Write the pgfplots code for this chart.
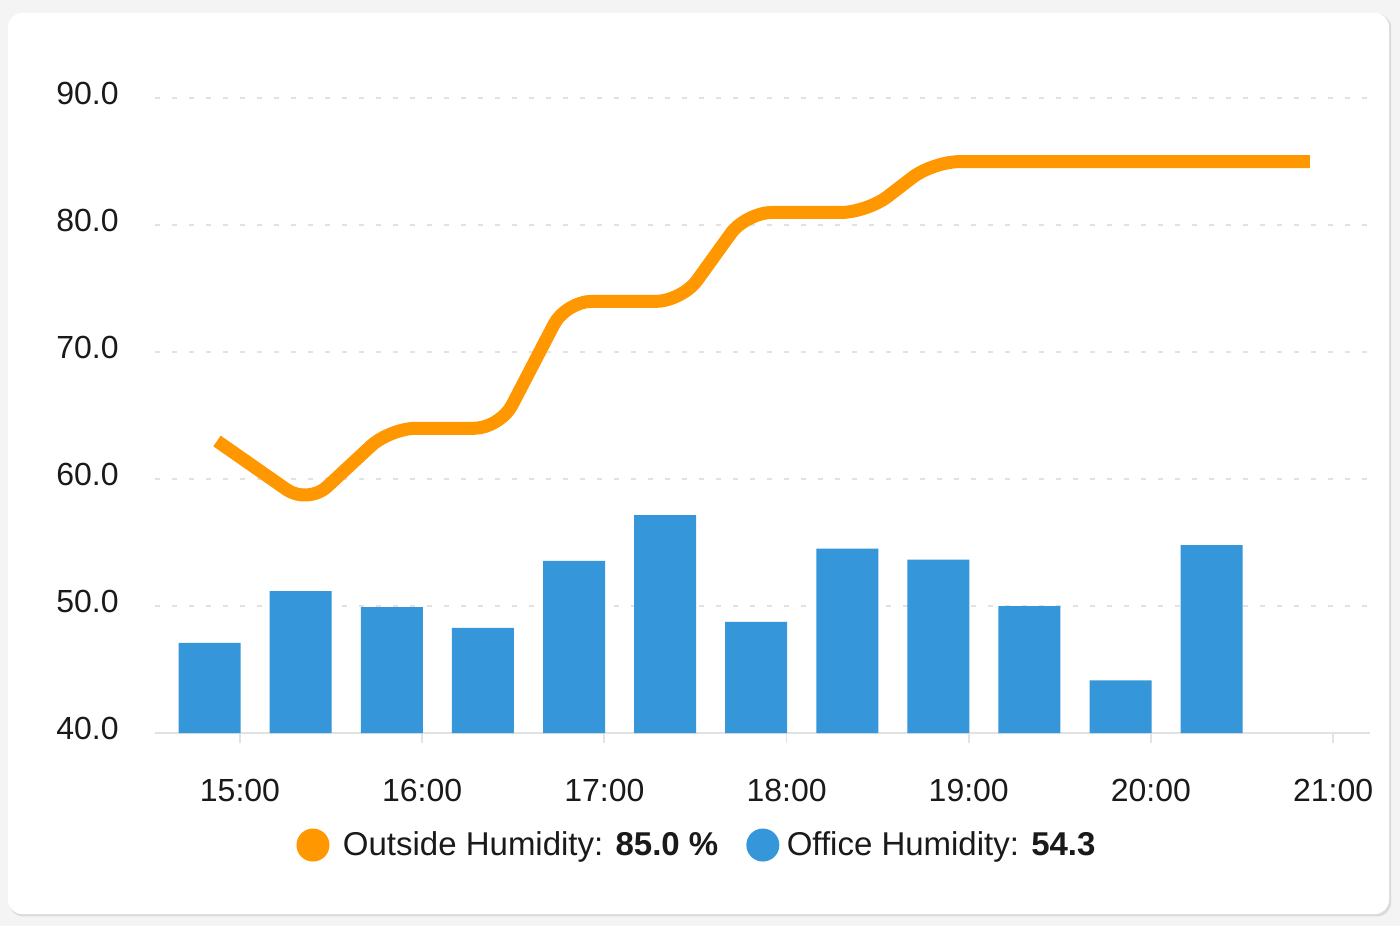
\documentclass[border=0pt]{standalone}
\usepackage{fontspec}
\setmainfont{Liberation Sans}
\usepackage{pgfplots}
\pgfplotsset{compat=1.18}
\definecolor{bgC}{HTML}{F4F4F4}
\definecolor{gridC}{HTML}{E2E2E2}
\definecolor{orangeC}{HTML}{FF9800}
\definecolor{barC}{HTML}{3596DA}
\definecolor{txtC}{HTML}{1A1A1A}
\begin{document}
\begin{tikzpicture}
\fill[bgC] (0,0) rectangle (700pt,463pt);
\fill[black!14, rounded corners=7pt] (4.6pt,4.8pt) rectangle (695.6pt,456pt);
\fill[white, rounded corners=7pt] (4pt,6pt) rectangle (694.5pt,456.5pt);
\begin{axis}[
  at={(77.5pt,96.5pt)}, anchor=south west,
  scale only axis, width=607.5pt, height=317.4pt,
  xmin=14.5335, xmax=21.2025, ymin=40, ymax=90,
  separate axis lines,
  axis x line*=bottom,
  x axis line style={draw=gridC, line width=1.2pt, -},
  axis y line*=left,
  y axis line style={draw=none},
  ytick={40,50,60,70,80,90},
  ytick style={draw=none},
  ymajorgrids,
  major grid style={draw=gridC, line width=1pt, dash pattern=on 2.5pt off 6pt},
  xtick={15,16,17,18,19,20,21},
  xticklabels={15:00,16:00,17:00,18:00,19:00,20:00,21:00},
  xtick style={draw=gridC, line width=0.9pt},
  tick align=outside,
  major tick length=5pt,
  /pgf/number format/.cd, fixed, fixed zerofill, precision=1, assume math mode=true,
  /pgfplots/.cd,
  yticklabel style={font=\fontsize{16}{19}\selectfont, text=txtC, anchor=base east, inner sep=0pt, xshift=-13pt, yshift=-3pt},
  xticklabel style={font=\fontsize{16}{19}\selectfont, text=txtC, anchor=base, inner sep=0pt, yshift=-29pt},
  clip=false,
  legend style={at={(axis description cs:0.4469,-0.1765)}, anchor=center, draw=none, fill=none,
    font=\fontsize{16.5}{20}\selectfont, text=txtC, legend columns=2,
    /tikz/every even column/.append style={column sep=12pt}},
]
\addplot[ybar, bar width=31pt, fill=barC, draw=none, forget plot] coordinates {
  (14.8333,47.10) (15.3333,51.18) (15.8333,49.92) (16.3333,48.29)
  (16.8333,53.55) (17.3333,57.16) (17.8333,48.76) (18.3333,54.52)
  (18.8333,53.65) (19.3333,50.00) (19.8333,44.14) (20.3333,54.79)
};
\addplot[draw=orangeC, line width=6.5pt, rounded corners=13pt, line join=round,
  legend image code/.code={\path[fill=orangeC, draw=none] (8.25pt,0pt) circle (8.25pt); \path (18pt,0pt);}] coordinates {
  (14.8738,63.0) (15.3732,58.0) (15.8233,64.0) (16.4270,64.0) (16.7892,74.0)
  (17.4259,74.0) (17.7772,81.0) (18.4413,81.0) (18.8035,85.0) (20.8727,85.0)
};
\addlegendentry{Outside Humidity: \textbf{85.0 \%}}
\addlegendimage{legend image code/.code={\path[fill=barC, draw=none] (8.25pt,0pt) circle (8.25pt); \path (18pt,0pt);}}
\addlegendentry{Office Humidity: \textbf{54.3}}
\end{axis}
\pgfresetboundingbox
\path (0,0) rectangle (700pt,463pt);
\end{tikzpicture}
\end{document}
